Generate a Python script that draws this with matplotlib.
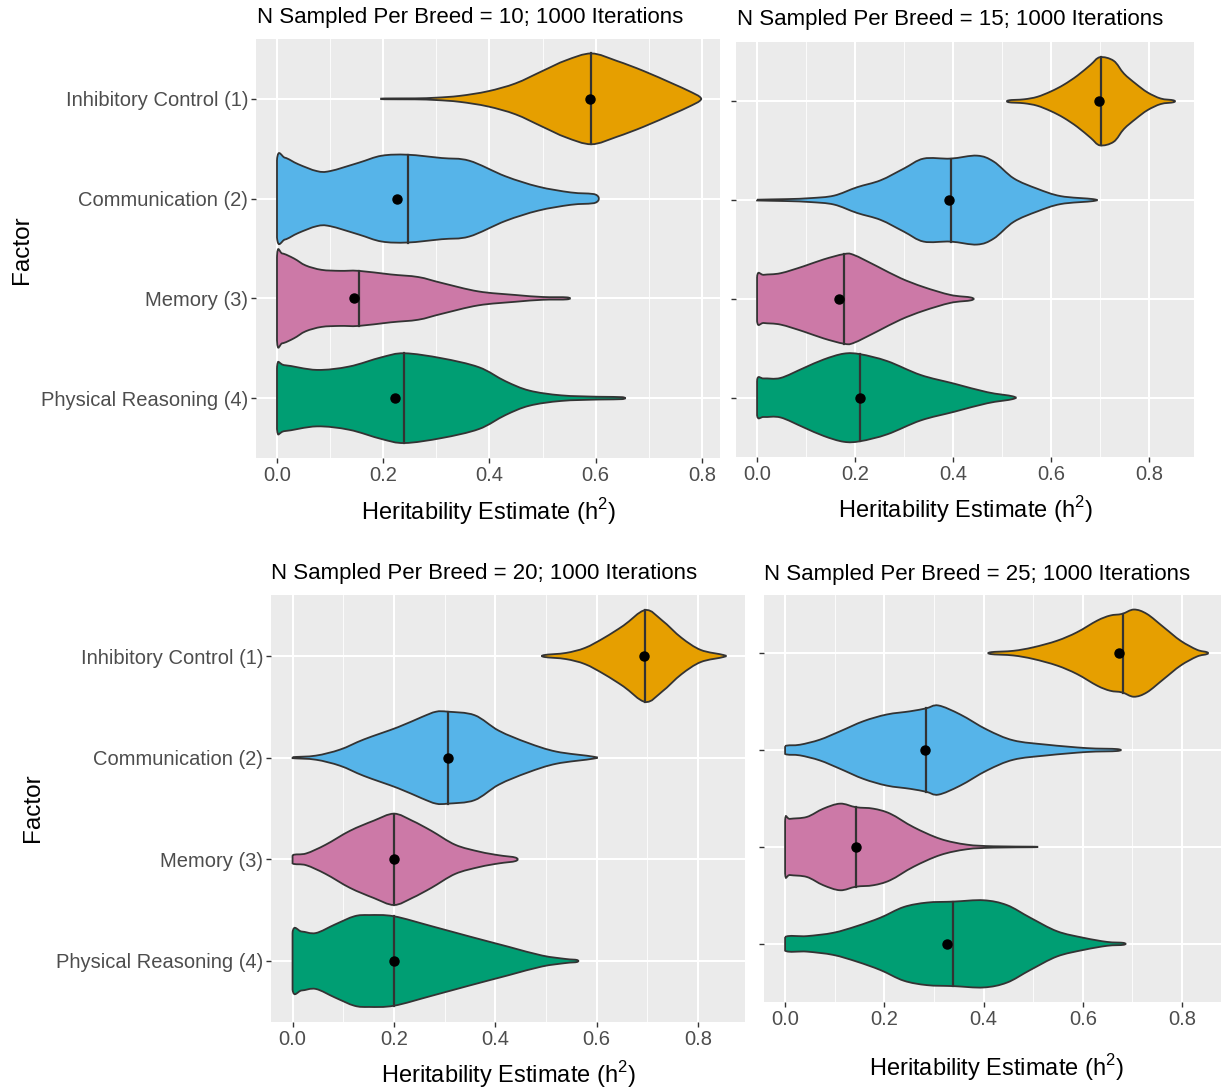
import numpy as np
import matplotlib
matplotlib.use("Agg")
import matplotlib.pyplot as plt
from matplotlib.path import Path
from matplotlib.patches import PathPatch

plt.rcParams["font.family"] = ["Liberation Sans", "DejaVu Sans"]
plt.rcParams["mathtext.fontset"] = "custom"
plt.rcParams["mathtext.rm"] = "Liberation Sans"

factors = ["Inhibitory Control (1)", "Communication (2)", "Memory (3)", "Physical Reasoning (4)"]
colors = ["#E69F00", "#56B4E9", "#CC79A7", "#009E73"]
n_sampled = [10, 15, 20, 25]

# violin outlines: value positions and half widths (category units)
prof10 = [
    ([0.202, 0.26, 0.30, 0.344, 0.397, 0.449, 0.50, 0.544, 0.592, 0.64, 0.69, 0.744, 0.775, 0.796],
     [0.004, 0.005, 0.012, 0.03, 0.076, 0.155, 0.28, 0.386, 0.455, 0.38, 0.28, 0.155, 0.08, 0.02]),
    ([0.0, 0.015, 0.04, 0.075, 0.10, 0.154, 0.197, 0.246, 0.31, 0.362, 0.43, 0.492, 0.553, 0.60],
     [0.39, 0.41, 0.345, 0.276, 0.276, 0.36, 0.43, 0.44, 0.407, 0.38, 0.224, 0.12, 0.062, 0.04]),
    ([0.0, 0.01, 0.032, 0.054, 0.084, 0.119, 0.154, 0.214, 0.266, 0.31, 0.379, 0.449, 0.50, 0.546],
     [0.42, 0.45, 0.40, 0.33, 0.286, 0.276, 0.276, 0.24, 0.214, 0.155, 0.07, 0.034, 0.014, 0.01]),
    ([0.0, 0.015, 0.075, 0.136, 0.197, 0.24, 0.31, 0.38, 0.43, 0.475, 0.535, 0.605, 0.65],
     [0.31, 0.33, 0.283, 0.317, 0.41, 0.45, 0.40, 0.31, 0.17, 0.076, 0.028, 0.014, 0.01]),
]
prof15 = [
    ([0.514, 0.545, 0.572, 0.60, 0.626, 0.654, 0.681, 0.70, 0.728, 0.749, 0.773, 0.797, 0.824, 0.85],
     [0.01, 0.02, 0.045, 0.10, 0.167, 0.26, 0.37, 0.446, 0.41, 0.28, 0.178, 0.09, 0.028, 0.01]),
    ([0.0, 0.061, 0.109, 0.157, 0.204, 0.252, 0.30, 0.34, 0.395, 0.449, 0.483, 0.524, 0.572, 0.62, 0.686],
     [0.004, 0.01, 0.02, 0.045, 0.13, 0.20, 0.32, 0.42, 0.42, 0.45, 0.39, 0.22, 0.115, 0.04, 0.01]),
    ([0.0, 0.014, 0.048, 0.095, 0.136, 0.177, 0.197, 0.245, 0.293, 0.34, 0.395, 0.437],
     [0.226, 0.244, 0.26, 0.33, 0.40, 0.453, 0.446, 0.33, 0.21, 0.12, 0.04, 0.014]),
    ([0.0, 0.014, 0.048, 0.095, 0.136, 0.177, 0.211, 0.266, 0.334, 0.402, 0.47, 0.522],
     [0.178, 0.195, 0.20, 0.30, 0.387, 0.446, 0.44, 0.37, 0.23, 0.143, 0.056, 0.014]),
]
prof20 = [
    ([0.497, 0.539, 0.577, 0.615, 0.653, 0.696, 0.729, 0.767, 0.805, 0.85],
     [0.01, 0.03, 0.08, 0.18, 0.30, 0.452, 0.35, 0.18, 0.06, 0.01]),
    ([0.0, 0.046, 0.094, 0.141, 0.208, 0.255, 0.283, 0.307, 0.359, 0.407, 0.464, 0.52, 0.593],
     [0.005, 0.02, 0.08, 0.18, 0.30, 0.40, 0.452, 0.452, 0.418, 0.265, 0.146, 0.06, 0.01]),
    ([0.0, 0.027, 0.065, 0.113, 0.16, 0.20, 0.236, 0.274, 0.321, 0.369, 0.407, 0.44],
     [0.04, 0.058, 0.143, 0.28, 0.38, 0.449, 0.38, 0.28, 0.143, 0.075, 0.04, 0.017]),
    ([0.0, 0.018, 0.046, 0.084, 0.122, 0.151, 0.20, 0.274, 0.35, 0.426, 0.492, 0.539, 0.561],
     [0.282, 0.29, 0.275, 0.36, 0.44, 0.452, 0.44, 0.343, 0.24, 0.14, 0.054, 0.02, 0.01]),
]
prof25 = [
    ([0.415, 0.46, 0.50, 0.548, 0.588, 0.629, 0.655, 0.679, 0.703, 0.729, 0.763, 0.797, 0.83, 0.85],
     [0.01, 0.024, 0.06, 0.128, 0.215, 0.336, 0.388, 0.405, 0.45, 0.405, 0.267, 0.128, 0.035, 0.01]),
    ([0.0, 0.03, 0.07, 0.111, 0.158, 0.205, 0.252, 0.284, 0.309, 0.353, 0.407, 0.46, 0.528, 0.608, 0.669],
     [0.04, 0.055, 0.107, 0.194, 0.298, 0.367, 0.40, 0.43, 0.46, 0.367, 0.21, 0.10, 0.055, 0.02, 0.01]),
    ([0.0, 0.01, 0.044, 0.077, 0.111, 0.143, 0.178, 0.212, 0.259, 0.313, 0.366, 0.42, 0.50],
     [0.274, 0.29, 0.31, 0.395, 0.447, 0.41, 0.395, 0.343, 0.204, 0.083, 0.024, 0.007, 0.003]),
    ([0.0, 0.044, 0.097, 0.145, 0.192, 0.239, 0.286, 0.339, 0.40, 0.447, 0.494, 0.548, 0.602, 0.649, 0.682],
     [0.07, 0.08, 0.114, 0.184, 0.27, 0.38, 0.426, 0.436, 0.45, 0.40, 0.27, 0.13, 0.062, 0.02, 0.01]),
]
medians = [[0.592, 0.246, 0.154, 0.240],
           [0.702, 0.395, 0.177, 0.211],
           [0.696, 0.307, 0.200, 0.200],
           [0.680, 0.284, 0.143, 0.339]]
means = [[0.590, 0.226, 0.145, 0.223],
         [0.699, 0.391, 0.168, 0.211],
         [0.694, 0.307, 0.200, 0.200],
         [0.672, 0.282, 0.143, 0.327]]
profiles = [prof10, prof15, prof20, prof25]

W, H = 1221, 1090
# panel rectangles in pixels: left, top, right, bottom
boxes = [(256, 39, 720, 458), (736, 42, 1194, 457), (271, 595, 745, 1022), (764, 595, 1228, 1002)]
xlims = [(-0.0395, 0.834), (-0.043, 0.892), (-0.0425, 0.8925), (-0.0425, 0.8925)]
title_pos = [(257, 18), (737, 20), (271, 573), (764, 575)]
xlab_pos = [(488, 512), (965, 510), (508, 1075), (996, 1068)]
ylab_pos = [(22, 250), None, (33, 808), None]


def smooth_closed(pts):
    # closed Catmull-Rom curve through the outline points
    n = len(pts)
    verts = [pts[0]]
    codes = [Path.MOVETO]
    for i in range(n):
        p0, p1, p2, p3 = pts[i - 1], pts[i], pts[(i + 1) % n], pts[(i + 2) % n]
        c1 = p1 + (p2 - p0) / 6.0
        c2 = p2 - (p3 - p1) / 6.0
        if p1[0] == p2[0] == 0.0:
            # flat left edge at zero
            c1 = p1.copy()
            c2 = p2.copy()
        verts += [c1, c2, p2]
        codes += [Path.CURVE4] * 3
    return Path(np.array(verts), codes)


fig = plt.figure(figsize=(W / 100, H / 100), dpi=100)
for k in range(4):
    l, t, r, b = boxes[k]
    ax = fig.add_axes([l / W, 1 - b / H, (r - l) / W, (b - t) / H])
    ax.set_facecolor("#EBEBEB")
    for s in ax.spines.values():
        s.set_visible(False)
    ax.set_xlim(*xlims[k])
    ax.set_ylim(4.6, 0.4)
    ax.set_xticks([0.0, 0.2, 0.4, 0.6, 0.8])
    ax.set_xticklabels(["0.0", "0.2", "0.4", "0.6", "0.8"])
    ax.set_xticks([0.1, 0.3, 0.5, 0.7], minor=True)
    ax.set_yticks([1, 2, 3, 4])
    if k in (0, 2):
        ax.set_yticklabels(factors)
    else:
        ax.set_yticklabels([])
    ax.tick_params(axis="both", which="major", length=3.5, width=1.0, color="#333333",
                   labelcolor="#4D4D4D", labelsize=14.5, pad=2)
    ax.tick_params(axis="x", which="minor", length=0)
    ax.grid(True, which="major", color="white", lw=1.5)
    ax.grid(True, which="minor", axis="x", color="white", lw=0.6)
    ax.set_axisbelow(True)

    for j in range(4):
        xs = np.array(profiles[k][j][0])
        ws = np.array(profiles[k][j][1])
        c = j + 1
        upper = np.column_stack([xs, c - ws])
        lower = np.column_stack([xs[::-1], (c + ws)[::-1]])
        pts = np.vstack([upper, lower])
        patch = PathPatch(smooth_closed(pts), facecolor=colors[j], edgecolor="#333333",
                          lw=1.3, zorder=3)
        ax.add_patch(patch)
        m = medians[k][j]
        hw = np.interp(m, xs, ws)
        ax.plot([m, m], [c - hw, c + hw], color="#333333", lw=1.6, zorder=4)
        ax.plot(means[k][j], c, "o", color="black", ms=6.5, zorder=5)

    tx, ty = title_pos[k]
    fig.text(tx / W, 1 - ty / H, "N Sampled Per Breed = %d; 1000 Iterations" % n_sampled[k],
             fontsize=16, ha="left", va="center", color="black")
    xx, xy = xlab_pos[k]
    fig.text(xx / W, 1 - xy / H, r"Heritability Estimate (h$^2$)", fontsize=17,
             ha="center", va="center", color="black")
    if ylab_pos[k] is not None:
        yx, yy = ylab_pos[k]
        fig.text(yx / W, 1 - yy / H, "Factor", fontsize=17.5, rotation=90,
                 ha="center", va="center", color="black")

fig.savefig("out.png", dpi=100)
plt.close(fig)
